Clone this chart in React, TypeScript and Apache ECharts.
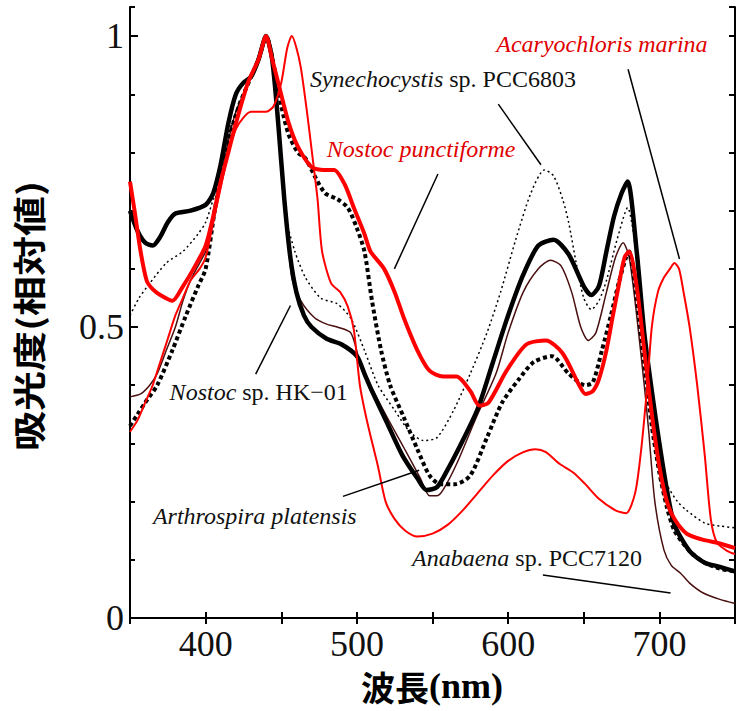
import React, { useEffect, useRef } from "react";
import * as echarts from "echarts";

// ---- data (wavelength nm, relative absorbance) ----
const wlHK01 = [350,355,360,365,370,375,380,390,400,405,410,415,420,425,430,435,440,444,448,452,456,460,465,470,480,490,500,505,510,520,530,540,546,553,560,570,580,590,600,610,620,630,640,650,655,660,665,670,675,679,685,690,695,700,705,710,720,730,740,750];
const absHK01 = [0.70,0.665,0.645,0.64,0.655,0.68,0.695,0.70,0.71,0.73,0.78,0.85,0.90,0.92,0.93,0.96,1.0,0.96,0.85,0.72,0.62,0.56,0.52,0.50,0.48,0.47,0.45,0.42,0.39,0.335,0.28,0.24,0.22,0.225,0.255,0.305,0.36,0.44,0.52,0.59,0.64,0.65,0.625,0.57,0.555,0.57,0.63,0.69,0.73,0.75,0.63,0.49,0.39,0.30,0.22,0.16,0.115,0.095,0.088,0.08];

const wlArthro = [350,355,360,368,378,387,395,400,406,410,415,422,430,435,440,445,450,455,461,466,472,479,487,494,500,505,510,516,522,531,540,548,555,565,575,586,596,607,617,629,640,651,656,662,668,673,678,680,685,690,695,700,705,710,720,730,740,750];
const absArthro = [0.33,0.35,0.37,0.40,0.46,0.52,0.57,0.60,0.70,0.76,0.82,0.88,0.93,0.96,1.0,0.95,0.88,0.83,0.80,0.79,0.76,0.73,0.72,0.705,0.67,0.63,0.545,0.46,0.40,0.345,0.29,0.245,0.23,0.23,0.245,0.31,0.37,0.41,0.44,0.45,0.42,0.40,0.405,0.46,0.52,0.575,0.62,0.63,0.55,0.44,0.33,0.25,0.19,0.15,0.115,0.095,0.085,0.08];

const wlSyn = [350,356,363,374,385,395,400,405,410,415,420,425,430,435,440,445,449,453,459,466,476,487,496,505,514,525,535,544,553,564,575,586,595,605,615,624,630,636,640,645,650,655,660,665,672,679,685,690,695,700,705,712,718,730,740,750];
const absSyn = [0.52,0.55,0.575,0.61,0.63,0.66,0.68,0.72,0.77,0.83,0.87,0.90,0.93,0.96,1.0,0.93,0.80,0.69,0.63,0.585,0.55,0.54,0.515,0.46,0.40,0.357,0.32,0.305,0.31,0.357,0.42,0.49,0.56,0.65,0.73,0.77,0.76,0.72,0.68,0.61,0.55,0.53,0.545,0.58,0.65,0.705,0.62,0.50,0.38,0.29,0.23,0.20,0.185,0.163,0.158,0.155];

const wlAna = [350,357,363,368,374,380,385,390,396,400,405,410,415,420,425,430,435,440,445,450,454,457,463,472,480,487,496,502,509,520,531,542,548,553,557,566,579,592,600,610,620,628,635,642,648,653,658,665,671,676,680,685,690,693,697,703,708,714,720,729,740,750];
const absAna = [0.38,0.385,0.40,0.42,0.46,0.50,0.545,0.58,0.61,0.63,0.68,0.75,0.82,0.87,0.90,0.93,0.96,1.0,0.93,0.80,0.67,0.585,0.545,0.516,0.505,0.50,0.49,0.44,0.40,0.345,0.293,0.24,0.21,0.21,0.22,0.265,0.345,0.42,0.49,0.56,0.60,0.615,0.605,0.56,0.50,0.477,0.49,0.56,0.62,0.645,0.62,0.52,0.40,0.32,0.20,0.117,0.09,0.077,0.06,0.043,0.032,0.025];

const wlNpun = [350,353,357,361,365,370,378,385,392,400,405,410,415,420,428,435,440,444,448,455,461,470,478,485,492,498,505,509,518,525,531,540,548,557,566,575,581,587,599,612,625,636,647,651,656,660,665,669,673,677,680,685,690,695,700,705,710,718,728,740,750];
const absNpun = [0.75,0.70,0.63,0.58,0.565,0.555,0.545,0.57,0.60,0.64,0.69,0.75,0.80,0.85,0.92,0.96,1.0,0.96,0.92,0.85,0.81,0.775,0.77,0.77,0.745,0.705,0.66,0.63,0.60,0.56,0.516,0.46,0.425,0.415,0.415,0.39,0.365,0.37,0.425,0.47,0.477,0.455,0.40,0.385,0.39,0.41,0.46,0.516,0.57,0.62,0.63,0.57,0.46,0.35,0.26,0.20,0.17,0.145,0.135,0.128,0.12];

const wlAcary = [350,355,360,365,370,375,380,385,390,396,400,405,410,415,420,425,430,440,445,450,454,457,460,463,467,471,474,477,483,489,494,498,502,507,514,519,525,532,540,550,560,570,580,590,600,610,618,625,634,643,651,660,671,678,684,688,692,695,699,703,707,710,713,716,720,725,730,734,738,745,750];
const absAcary = [0.32,0.34,0.37,0.40,0.44,0.48,0.52,0.55,0.58,0.60,0.62,0.68,0.74,0.80,0.84,0.86,0.87,0.87,0.88,0.92,0.98,1.0,0.98,0.945,0.87,0.785,0.72,0.63,0.575,0.56,0.535,0.495,0.40,0.335,0.26,0.20,0.17,0.15,0.14,0.145,0.16,0.185,0.215,0.245,0.27,0.285,0.29,0.285,0.265,0.25,0.23,0.205,0.185,0.18,0.215,0.29,0.40,0.50,0.56,0.585,0.60,0.61,0.60,0.56,0.50,0.40,0.28,0.17,0.13,0.115,0.11];

const xTickLabels = ["400", "500", "600", "700"];
const yTickLabels = ["0", "0.5", "1"];

const zip = (xs: number[], ys: number[]) => xs.map((x, i) => [x, ys[i]]);

// annotation layout (data coordinates)
const annotations = [
  { text: "{i|Acaryochloris marina}", at: [662, 0.986], from: [679.3, 0.943], to: [713.3, 0.617], color: "#e00000" },
  { text: "{i|Synechocystis} sp. PCC6803", at: [556.9, 0.926], from: [593.5, 0.883], to: [621.7, 0.779], color: "#111" },
  { text: "{i|Nostoc punctiforme}", at: [542.5, 0.806], from: [553.6, 0.763], to: [524.8, 0.6], color: "#e00000" },
  { text: "{i|Nostoc} sp. HK\u221201", at: [435.1, 0.388], from: [433.1, 0.419], to: [456.1, 0.537], color: "#111" },
  { text: "{i|Arthrospira platensis}", at: [432.5, 0.175], from: [490.8, 0.209], to: [541.2, 0.254], color: "#111" },
  { text: "{i|Anabaena} sp. PCC7120", at: [612.5, 0.103], from: [623, 0.074], to: [707.4, 0.043], color: "#111" },
];

const SERIF = "'Liberation Serif', 'Times New Roman', serif";
const CJK = "'Noto Sans CJK JP', 'Noto Sans CJK SC', sans-serif";

export default function App() {
  const ref = useRef<HTMLDivElement>(null);
  useEffect(() => {
    const chart = echarts.init(ref.current!, null, { renderer: "svg" });
    const axisLine = { show: true, lineStyle: { color: "#000", width: 2 } };
    const yFmt = (v: number) => {
      if (Math.abs(v) < 1e-9) return yTickLabels[0];
      if (Math.abs(v - 0.5) < 1e-9) return yTickLabels[1];
      if (Math.abs(v - 1) < 1e-9) return yTickLabels[2];
      return "";
    };
    const xFmt = (v: number) => (xTickLabels.includes(String(v)) ? String(v) : "");
    const line = (name: string, xs: number[], ys: number[], color: string, width: number, type: any, z: number) => ({
      name,
      type: "line",
      data: zip(xs, ys),
      showSymbol: false,
      symbol: "none",
      smooth: 0.25,
      z,
      lineStyle: { color, width, type, cap: "butt", join: "round" },
    });
    chart.setOption({
      animation: false,
      backgroundColor: "#fff",
      grid: { left: 130, right: -3, top: 7, bottom: 93 },
      xAxis: [
        {
          type: "value", min: 350, max: 750, interval: 50, position: "bottom",
          axisLine, splitLine: { show: false },
          axisTick: { inside: true, length: 6, lineStyle: { color: "#000", width: 2 } },
          axisLabel: { formatter: xFmt, fontFamily: SERIF, fontSize: 36, color: "#111", margin: 8 },
        },
        {
          type: "value", min: 350, max: 750, interval: 50, position: "top",
          axisLine, splitLine: { show: false },
          axisTick: { inside: true, length: 6, lineStyle: { color: "#000", width: 2 } },
          axisLabel: { show: false },
        },
      ],
      yAxis: [
        {
          type: "value", min: 0, max: 1.05, interval: 0.5, position: "left",
          axisLine, splitLine: { show: false },
          axisTick: { inside: true, length: 8, lineStyle: { color: "#000", width: 2 } },
          axisLabel: { formatter: yFmt, fontFamily: SERIF, fontSize: 36, color: "#111", margin: 6, showMaxLabel: false },
        },
        {
          type: "value", min: 0, max: 1.05, interval: 0.1, position: "left",
          axisLine: { show: false }, splitLine: { show: false },
          axisTick: { inside: true, length: 5, lineStyle: { color: "#000", width: 2 } },
          axisLabel: { show: false },
        },
        {
          type: "value", min: 0, max: 1.05, interval: 0.1, position: "right",
          axisLine, splitLine: { show: false },
          axisTick: { inside: true, length: 6, lineStyle: { color: "#000", width: 2 } },
          axisLabel: { show: false },
        },
      ],
      series: [
        line("Anabaena sp. PCC7120", wlAna, absAna, "#4a0f0f", 1.5, "solid", 2),
        line("Synechocystis sp. PCC6803", wlSyn, absSyn, "#000", 1.5, [2, 3], 3),
        line("Arthrospira platensis", wlArthro, absArthro, "#000", 4, [4, 3], 4),
        line("Nostoc sp. HK-01", wlHK01, absHK01, "#000", 4.5, "solid", 5),
        line("Acaryochloris marina", wlAcary, absAcary, "#ff0000", 2, "solid", 6),
        line("Nostoc punctiforme", wlNpun, absNpun, "#ff0000", 4, "solid", 7),
      ],
    });

    const px = (p: number[]) => chart.convertToPixel({ gridIndex: 0 }, p) as number[];
    const graphic: any[] = [];
    annotations.forEach((a) => {
      const [tx, ty] = px(a.at);
      const [x1, y1] = px(a.from);
      const [x2, y2] = px(a.to);
      graphic.push({
        type: "line",
        shape: { x1, y1, x2, y2 },
        style: { stroke: "#000", lineWidth: 1.5 },
        z: 50,
      });
      graphic.push({
        type: "text",
        x: tx,
        y: ty,
        z: 60,
        style: {
          text: a.text,
          fill: a.color,
          fontFamily: SERIF,
          fontSize: 24,
          align: "center",
          verticalAlign: "middle",
          rich: { i: { fontStyle: "italic", fill: a.color, fontFamily: SERIF, fontSize: 24 } },
        },
      });
    });
    // axis titles
    graphic.push({
      type: "text",
      x: 28,
      y: 316,
      rotation: Math.PI / 2,
      scaleY: 0.82,
      style: {
        text: "吸光度(相対値)",
        fill: "#000",
        fontFamily: CJK,
        fontWeight: "bold",
        fontSize: 40,
        align: "center",
        verticalAlign: "middle",
      },
    });
    graphic.push({
      type: "text",
      x: 432,
      y: 686,
      style: {
        text: "{c|波長}{s|(nm)}",
        fill: "#000",
        align: "center",
        verticalAlign: "middle",
        lineHeight: 36,
        rich: {
          c: { fontFamily: CJK, fontWeight: "bold", fontSize: 34, fill: "#000", lineHeight: 36 },
          s: { fontFamily: SERIF, fontWeight: "bold", fontSize: 36, fill: "#000", lineHeight: 36 },
        },
      },
    });
    chart.setOption({ graphic });
    return () => chart.dispose();
  }, []);
  return (
    <div
      ref={ref}
      style={{ position: "fixed", left: 0, top: 0, width: 738, height: 711, background: "#fff" }}
    />
  );
}
